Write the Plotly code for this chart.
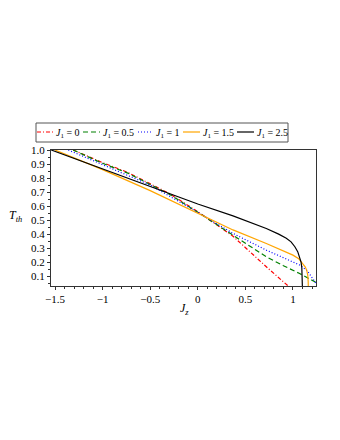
import plotly.graph_objects as go

# threshold temperature T_th vs J_z for several J_1 values
j_red = [-1.31, -1.0, -0.735, -0.5, -0.3, 0.0, 0.37, 0.72, 0.95, 1.0]
t_red = [1.0, 0.91, 0.84, 0.76, 0.69, 0.56, 0.385, 0.167, 0.036, 0.0]

j_green = [-1.31, -1.0, -0.735, -0.5, -0.3, 0.0, 0.37, 0.72, 0.9, 1.07, 1.23, 1.26]
t_green = [1.0, 0.905, 0.835, 0.755, 0.685, 0.556, 0.393, 0.238, 0.175, 0.119, 0.06, 0.045]

j_blue = [-1.36, -1.0, -0.735, -0.5, 0.0, 0.37, 0.72, 0.9, 1.07, 1.15, 1.21, 1.24, 1.26]
t_blue = [1.0, 0.895, 0.82, 0.75, 0.555, 0.405, 0.286, 0.23, 0.18, 0.14, 0.085, 0.05, 0.02]

j_orange = [-1.5, -1.0, -0.5, 0.0, 0.37, 0.72, 0.9, 1.0, 1.06, 1.105, 1.13, 1.145, 1.155, 1.16, 1.162]
t_orange = [1.0, 0.86, 0.71, 0.55, 0.43, 0.333, 0.28, 0.25, 0.225, 0.19, 0.165, 0.14, 0.11, 0.06, 0.0]

j_black = [-1.54, -1.0, -0.5, 0.0, 0.37, 0.72, 0.85, 0.93, 0.98, 1.02, 1.05, 1.07, 1.085, 1.093, 1.098, 1.1]
t_black = [1.0, 0.865, 0.74, 0.615, 0.53, 0.44, 0.40, 0.37, 0.345, 0.31, 0.275, 0.24, 0.2, 0.16, 0.1, 0.0]

labels = ["0", "0.5", "1", "1.5", "2.5"]
colors = ["#ff0000", "#008000", "#0000ff", "#ffa500", "#000000"]
dashes = ["4px,2px,1px,2px", "5px,3px", "1px,2px", "solid", "solid"]

x_ticks = [-1.5, -1, -0.5, 0, 0.5, 1]
x_ticktext = ["\u22121.5", "\u22121", "\u22120.5", "0", "0.5", "1"]
y_ticks = [0.1, 0.2, 0.3, 0.4, 0.5, 0.6, 0.7, 0.8, 0.9, 1.0]
y_ticktext = ["0.1", "0.2", "0.3", "0.4", "0.5", "0.6", "0.7", "0.8", "0.9", "1.0"]

# page has an 8px body margin, so the figure is a bit smaller than the window
OFF = 8
W, H = 340 - OFF, 440 - OFF
L, R, T, B = 51, 316, 150, 286   # plot area in page pixels
FONT = "Liberation Serif"

def px(x):
    return (x - L) / (R - L)

def py(y):
    return (B - y) / (B - T)

fig = go.Figure()
series = [(j_red, t_red), (j_green, t_green), (j_blue, t_blue),
          (j_orange, t_orange), (j_black, t_black)]
for (xs, ys), c, d in zip(series, colors, dashes):
    fig.add_trace(go.Scatter(x=xs, y=ys, mode="lines", showlegend=False,
                             line=dict(color=c, width=1.2, dash=d)))

# hand-made legend box (plotly's own legend symbols are too wide here)
shapes = [dict(type="rect", xref="paper", yref="paper",
               x0=px(36), x1=px(288), y0=py(142), y1=py(123),
               line=dict(color="#555", width=1), fillcolor="white")]
annotations = []
item_x = [37, 83, 138, 183, 237]
line_len = [16, 17, 15, 17, 17]
for x0, ln, c, d, lab in zip(item_x, line_len, colors, dashes, labels):
    shapes.append(dict(type="line", xref="paper", yref="paper",
                       x0=px(x0), x1=px(x0 + ln), y0=py(132), y1=py(132),
                       line=dict(color=c, width=1.2, dash=d)))
    annotations.append(dict(xref="paper", yref="paper", x=px(x0 + ln + 1), y=py(133),
                            xanchor="left", yanchor="middle", showarrow=False,
                            text="<i>J</i><sub>1</sub> = " + lab,
                            font=dict(family=FONT, size=10, color="black")))

annotations.append(dict(xref="paper", yref="paper", x=px(15), y=py(216),
                        xanchor="center", yanchor="middle", showarrow=False,
                        text="<i>T<sub>th</sub></i>",
                        font=dict(family=FONT, size=12, color="black")))
annotations.append(dict(xref="paper", yref="paper", x=px(184), y=py(309),
                        xanchor="center", yanchor="middle", showarrow=False,
                        text="<i>J<sub>z</sub></i>",
                        font=dict(family=FONT, size=12, color="black")))

axis_common = dict(showgrid=False, zeroline=False, showline=True, mirror=True,
                   linecolor="#333", linewidth=1, ticks="outside", ticklen=3,
                   tickcolor="#333", tickfont=dict(family=FONT, size=11, color="black"))

fig.update_layout(
    width=W, height=H,
    margin=dict(l=L - OFF, r=W - (R - OFF), t=T - OFF, b=H - (B - OFF)),
    paper_bgcolor="white", plot_bgcolor="white",
    shapes=shapes, annotations=annotations,
    xaxis=dict(range=[-1.542, 1.242], tickvals=x_ticks, ticktext=x_ticktext,
               minor=dict(dtick=0.1, ticks="outside", ticklen=2, tickcolor="#333"),
               **axis_common),
    yaxis=dict(range=[0.03, 1.0], tickvals=y_ticks, ticktext=y_ticktext,
               minor=dict(dtick=0.05, ticks="outside", ticklen=2, tickcolor="#333"),
               **axis_common),
)

fig.write_html("out.html")
